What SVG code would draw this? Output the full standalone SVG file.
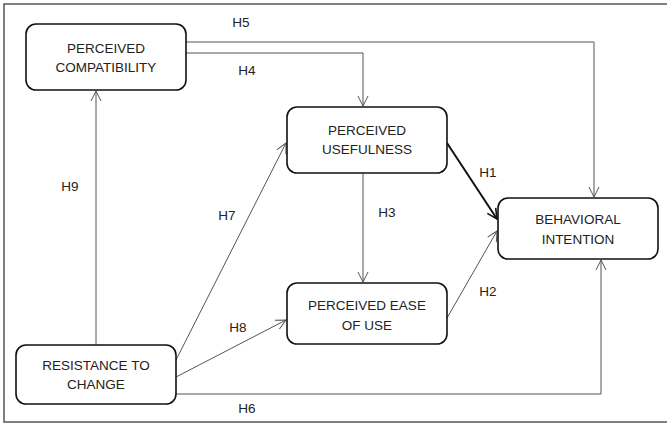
<svg xmlns="http://www.w3.org/2000/svg" width="667" height="424" viewBox="0 0 667 424">
<defs>
<style>
.node rect{fill:#fff;stroke:#111;stroke-width:1.6}
.node text,.lbl{font-family:"Liberation Sans",Arial,sans-serif;font-size:13.5px;fill:#222;text-anchor:middle}
.c{fill:none;stroke:#555;stroke-width:1}
.thick{stroke:#111;stroke-width:2}
</style>
<marker id="a" viewBox="0 0 12 12" refX="11" refY="6" markerWidth="12" markerHeight="12" markerUnits="userSpaceOnUse" orient="auto">
<path d="M1,1 L11,6 L1,11" fill="none" stroke="#555" stroke-width="1"/>
</marker>
<marker id="ab" viewBox="0 0 12 12" refX="11" refY="6" markerWidth="12" markerHeight="12" markerUnits="userSpaceOnUse" orient="auto">
<path d="M1,1 L11,6 L1,11" fill="none" stroke="#111" stroke-width="1.6"/>
</marker>
</defs>
<rect width="667" height="424" fill="#fff"/>
<rect x="4" y="4" width="700" height="418" fill="none" stroke="#555" stroke-width="1.5"/>
<g id="connectors">
<polyline class="c" points="186,42 594,42 594,197" marker-end="url(#a)"/>
<polyline class="c" points="186,53 363,53 363,106" marker-end="url(#a)"/>
<line class="c" x1="96" y1="345" x2="96" y2="91" marker-end="url(#a)"/>
<line class="c" x1="363" y1="173" x2="363" y2="282" marker-end="url(#a)"/>
<line class="c thick" x1="447" y1="143" x2="497" y2="219" marker-end="url(#ab)"/>
<line class="c" x1="447" y1="318" x2="497" y2="231" marker-end="url(#a)"/>
<line class="c" x1="176" y1="360" x2="286" y2="143" marker-end="url(#a)"/>
<line class="c" x1="176" y1="377" x2="286" y2="320" marker-end="url(#a)"/>
<polyline class="c" points="176,394 601,394 601,260" marker-end="url(#a)"/>
</g>
<g id="labels">
<text class="lbl" x="241" y="27">H5</text>
<text class="lbl" x="247" y="75">H4</text>
<text class="lbl" x="488" y="177">H1</text>
<text class="lbl" x="387" y="217">H3</text>
<text class="lbl" x="227" y="220">H7</text>
<text class="lbl" x="70" y="191">H9</text>
<text class="lbl" x="238" y="332">H8</text>
<text class="lbl" x="488" y="296">H2</text>
<text class="lbl" x="247" y="413">H6</text>
</g>
<g id="compatibility" class="node">
<rect x="26" y="24" width="160" height="66" rx="10"/>
<text x="106" y="53">PERCEIVED</text>
<text x="106" y="72">COMPATIBILITY</text>
</g>
<g id="usefulness" class="node">
<rect x="287" y="107" width="160" height="66" rx="10"/>
<text x="367" y="135">PERCEIVED</text>
<text x="367" y="154">USEFULNESS</text>
</g>
<g id="intention" class="node">
<rect x="498" y="198" width="160" height="61" rx="10"/>
<text x="578" y="224">BEHAVIORAL</text>
<text x="578" y="244">INTENTION</text>
</g>
<g id="ease" class="node">
<rect x="287" y="283" width="160" height="61" rx="10"/>
<text x="367" y="310">PERCEIVED EASE</text>
<text x="367" y="330">OF USE</text>
</g>
<g id="resistance" class="node">
<rect x="16" y="345" width="160" height="59" rx="10"/>
<text x="96" y="370">RESISTANCE TO</text>
<text x="96" y="389">CHANGE</text>
</g>
</svg>
